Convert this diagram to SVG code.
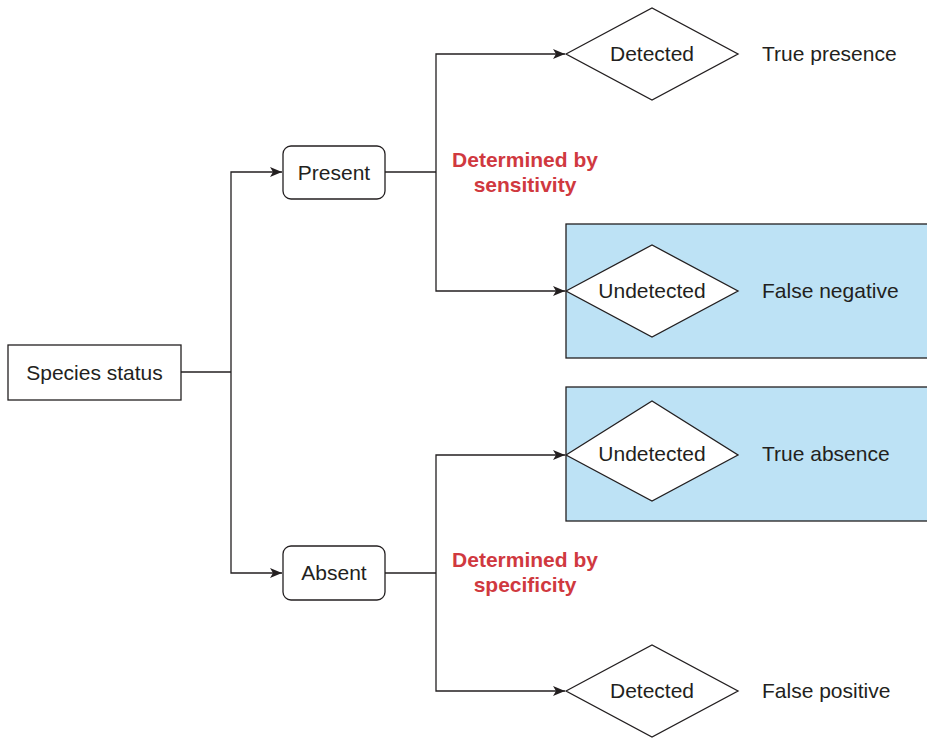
<svg xmlns="http://www.w3.org/2000/svg" width="927" height="739" viewBox="0 0 927 739">
<defs>
<marker id="arr" viewBox="0 0 12 10" refX="12" refY="5" markerWidth="12" markerHeight="10" markerUnits="userSpaceOnUse" orient="auto">
<path d="M0,0 L12,5 L0,10 L3,5 Z" fill="#231f20"/>
</marker>
<style>
.box{fill:#fff;stroke:#231f20;stroke-width:1.3}
.hl{fill:#bde2f5;stroke:#231f20;stroke-width:1.3}
.ln{fill:none;stroke:#231f20;stroke-width:1.3}
.t{font-family:"Liberation Sans",Arial,sans-serif;font-size:21px;fill:#231f20;dominant-baseline:central}
.r{font-family:"Liberation Sans",Arial,sans-serif;font-size:21px;font-weight:bold;fill:#d0393f;text-anchor:middle}
</style>
</defs>
<rect width="927" height="739" fill="#fff"/>
<rect class="hl" x="566" y="224" width="368" height="134"/>
<rect class="hl" x="566" y="387" width="368" height="134"/>
<g id="connectors">
<path class="ln" d="M181,372 H231"/>
<path class="ln" d="M231,372 V172 H282" marker-end="url(#arr)"/>
<path class="ln" d="M231,372 V573 H282" marker-end="url(#arr)"/>
<path class="ln" d="M385,172 H436"/>
<path class="ln" d="M436,172 V54 H565" marker-end="url(#arr)"/>
<path class="ln" d="M436,172 V291 H565" marker-end="url(#arr)"/>
<path class="ln" d="M385,573 H436"/>
<path class="ln" d="M436,573 V455 H565" marker-end="url(#arr)"/>
<path class="ln" d="M436,573 V691 H565" marker-end="url(#arr)"/>
</g>
<g id="species-status">
<rect class="box" x="8" y="345" width="173" height="55"/>
<text class="t" x="94.5" y="372" text-anchor="middle">Species status</text>
</g>
<g id="present">
<rect class="box" x="283" y="146" width="102" height="53" rx="8"/>
<text class="t" x="334" y="172" text-anchor="middle">Present</text>
</g>
<g id="absent">
<rect class="box" x="283" y="546" width="102" height="54" rx="8"/>
<text class="t" x="334" y="572.5" text-anchor="middle">Absent</text>
</g>
<g id="label-sensitivity">
<text class="r" x="525" y="166.5">Determined by</text>
<text class="r" x="525" y="191.5">sensitivity</text>
</g>
<g id="label-specificity">
<text class="r" x="525" y="566.5">Determined by</text>
<text class="r" x="525" y="591.5">specificity</text>
</g>
<g id="detected-presence">
<polygon class="box" points="566,54 652,8 738,54 652,100"/>
<text class="t" x="652" y="53.5" text-anchor="middle">Detected</text>
<text class="t" x="762" y="53.5">True presence</text>
</g>
<g id="undetected-presence">
<polygon class="box" points="566,291 652,245 738,291 652,337"/>
<text class="t" x="652" y="290.5" text-anchor="middle">Undetected</text>
<text class="t" x="762" y="290.5">False negative</text>
</g>
<g id="undetected-absence">
<polygon class="box" points="566,455 652,401 738,455 652,501"/>
<text class="t" x="652" y="453.5" text-anchor="middle">Undetected</text>
<text class="t" x="762" y="453.5">True absence</text>
</g>
<g id="detected-absence">
<polygon class="box" points="566,691 652,645 738,691 652,737"/>
<text class="t" x="652" y="690.5" text-anchor="middle">Detected</text>
<text class="t" x="762" y="690.5">False positive</text>
</g>
</svg>
